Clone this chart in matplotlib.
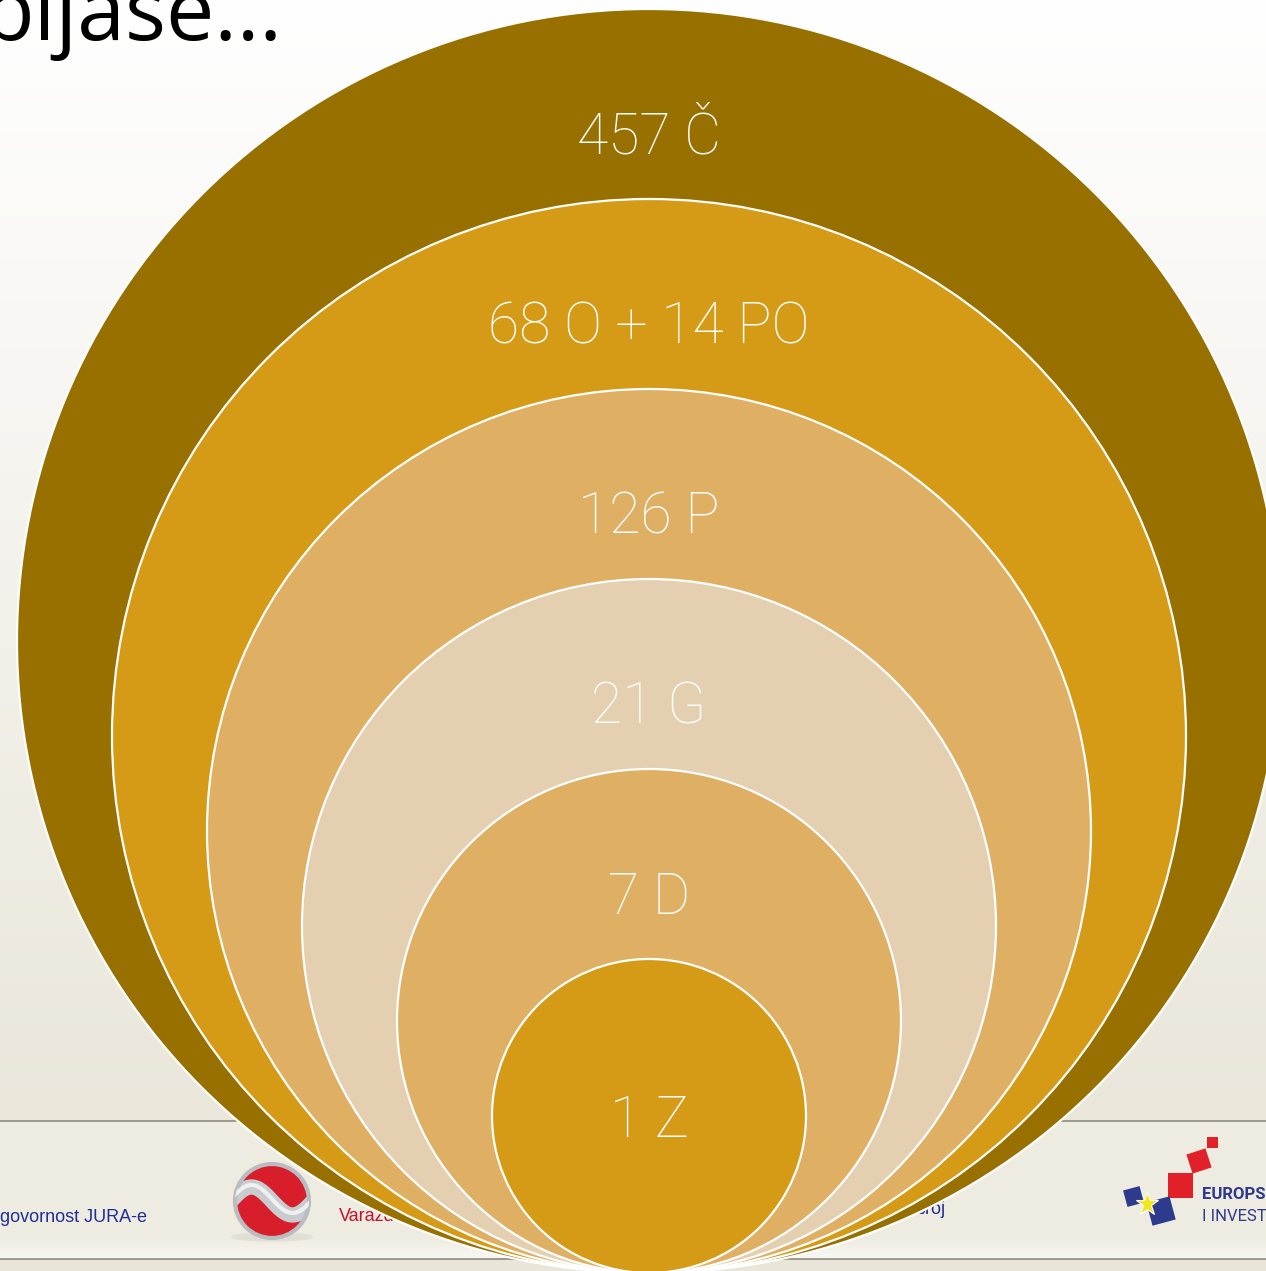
import matplotlib
matplotlib.use("Agg")
import matplotlib.pyplot as plt
import numpy as np
from matplotlib.patches import Circle, Rectangle, Ellipse
from matplotlib.colors import LinearSegmentedColormap
import matplotlib.transforms as mtransforms

# nested levels, outermost first
labels = ["457 Č", "68 O + 14 PO", "126 P", "21 G", "7 D", "1 Z"]
level = [0, 1, 2, 3, 4, 5]
fill_colors = ["#977000", "#D59B17", "#DFB064", "#E4CFB1", "#DFB064", "#D59B17"]

title_text = "bijase..."
footer_left = "govornost JURA-e"

W, H = 1266, 1271
fig = plt.figure(figsize=(W / 100, H / 100), dpi=100)
ax = fig.add_axes([0, 0, 1, 1])
ax.set_xlim(0, W)
ax.set_ylim(H, 0)
ax.axis("off")

# slide background: white -> beige gradient, footer band
bg = LinearSegmentedColormap.from_list("bg", ["#FFFFFF", "#F4F2EC", "#EAE6DA"])
grad = np.linspace(0, 1, 256).reshape(-1, 1)
ax.imshow(grad, cmap=bg, extent=[0, W, 1120, 0], aspect="auto", zorder=0)
ax.add_patch(Rectangle((0, 1120), W, 120, color="#EEEBE1", zorder=0.5, lw=0))
foot = LinearSegmentedColormap.from_list("ft", ["#EEEBE1", "#F9F8F4"])
ax.imshow(grad, cmap=foot, extent=[0, W, 1259, 1238], aspect="auto", zorder=0.6)
ax.add_patch(Rectangle((0, 1259), W, 12, color="#E9E5D9", zorder=0.5, lw=0))
ax.plot([0, W], [1121, 1121], color="#8E8B7D", lw=1.2, zorder=1)
ax.plot([0, W], [1259, 1259], color="#8E8B7D", lw=1.2, zorder=1)

# title (cut at top-left)
ax.text(-18, 40, title_text, fontsize=62, family=["Open Sans", "DejaVu Sans"],
        color="black", ha="left", va="baseline", zorder=1)

# footer texts (mostly behind circles)
ax.text(0, 1222, footer_left, fontsize=13, family=["Liberation Sans", "DejaVu Sans"],
        color="#1F2E96", ha="left", va="baseline", zorder=1)
ax.text(339, 1221, "Varaždin", fontsize=13, family=["Liberation Sans", "DejaVu Sans"],
        color="#C8102E", ha="left", va="baseline", zorder=1)
ax.text(946, 1214, "broj", fontsize=13, family=["Liberation Sans", "DejaVu Sans"],
        color="#1F2E96", ha="right", va="baseline", zorder=1)

# JURA logo: red sphere with silver swirl
lc = (272, 1201)
ax.add_patch(Ellipse((272, 1237), 80, 8, color="#E2DFD6", zorder=1))
sph = Circle(lc, 37, color="#D81E2A", zorder=1.2)
ax.add_patch(sph)
t = np.linspace(-1.1, 1.1, 100)
sx = lc[0] + t * 37
sy = lc[1] + 14 * np.sin(t * np.pi * 0.9)
band, = ax.plot(sx, sy, color="#C9CCCF", lw=11, zorder=1.3, solid_capstyle="butt")
band.set_clip_path(sph)
hl, = ax.plot(sx, sy - 2, color="#EEF0F2", lw=3, zorder=1.4)
hl.set_clip_path(sph)
ax.add_patch(Circle(lc, 37, fill=False, ec="#B9BCC0", lw=3, zorder=1.35))


# EU logo
def square(x0, y0, x1, y1, color, angle=0):
    cx, cy = (x0 + x1) / 2, (y0 + y1) / 2
    s = (x1 - x0)
    r = Rectangle((cx - s / 2, cy - s / 2), s, s, color=color, zorder=1.2, lw=0)
    tr = mtransforms.Affine2D().rotate_deg_around(cx, cy, angle) + ax.transData
    r.set_transform(tr)
    ax.add_patch(r)


square(1168, 1173, 1193, 1198, "#E2202A", 0)
square(1189, 1151, 1209, 1171, "#E2202A", -18)
square(1207, 1137, 1218, 1148, "#E2202A", 0)
square(1125, 1188, 1142, 1205, "#2E3A8C", -15)
square(1149, 1199, 1173, 1223, "#2E3A8C", -15)
ax.plot([1147], [1204], marker="*", ms=17, color="#F5E61A", mec="white", mew=0.8, zorder=1.4)
ax.text(1202, 1199, "EUROPS", fontsize=12, fontweight="bold",
        family=["Liberation Sans Narrow", "Roboto", "DejaVu Sans"], color="#2E3A8C",
        ha="left", va="baseline", zorder=1)
ax.text(1202, 1221, "I INVEST", fontsize=12,
        family=["Liberation Sans Narrow", "Roboto", "DejaVu Sans"], color="#2E3A8C",
        ha="left", va="baseline", zorder=1)

# nested circles, all tangent at the bottom
cx, bottom, r0, step = 649, 1273, 632, 95
for i, lab, col in zip(level, labels, fill_colors):
    r = r0 - i * step
    cy = bottom - r
    ax.add_patch(Circle((cx, cy), r, facecolor=col, edgecolor="white",
                        lw=1.6, zorder=5 + i))
    top = bottom - 2 * r
    ty = top + 145 if i < len(labels) - 1 else cy + 21
    ax.text(cx, ty, lab, fontsize=41, color="white", ha="center", va="baseline",
            family=["Roboto", "DejaVu Sans"], fontweight="light", zorder=20)

fig.savefig("out.png", dpi=100)
